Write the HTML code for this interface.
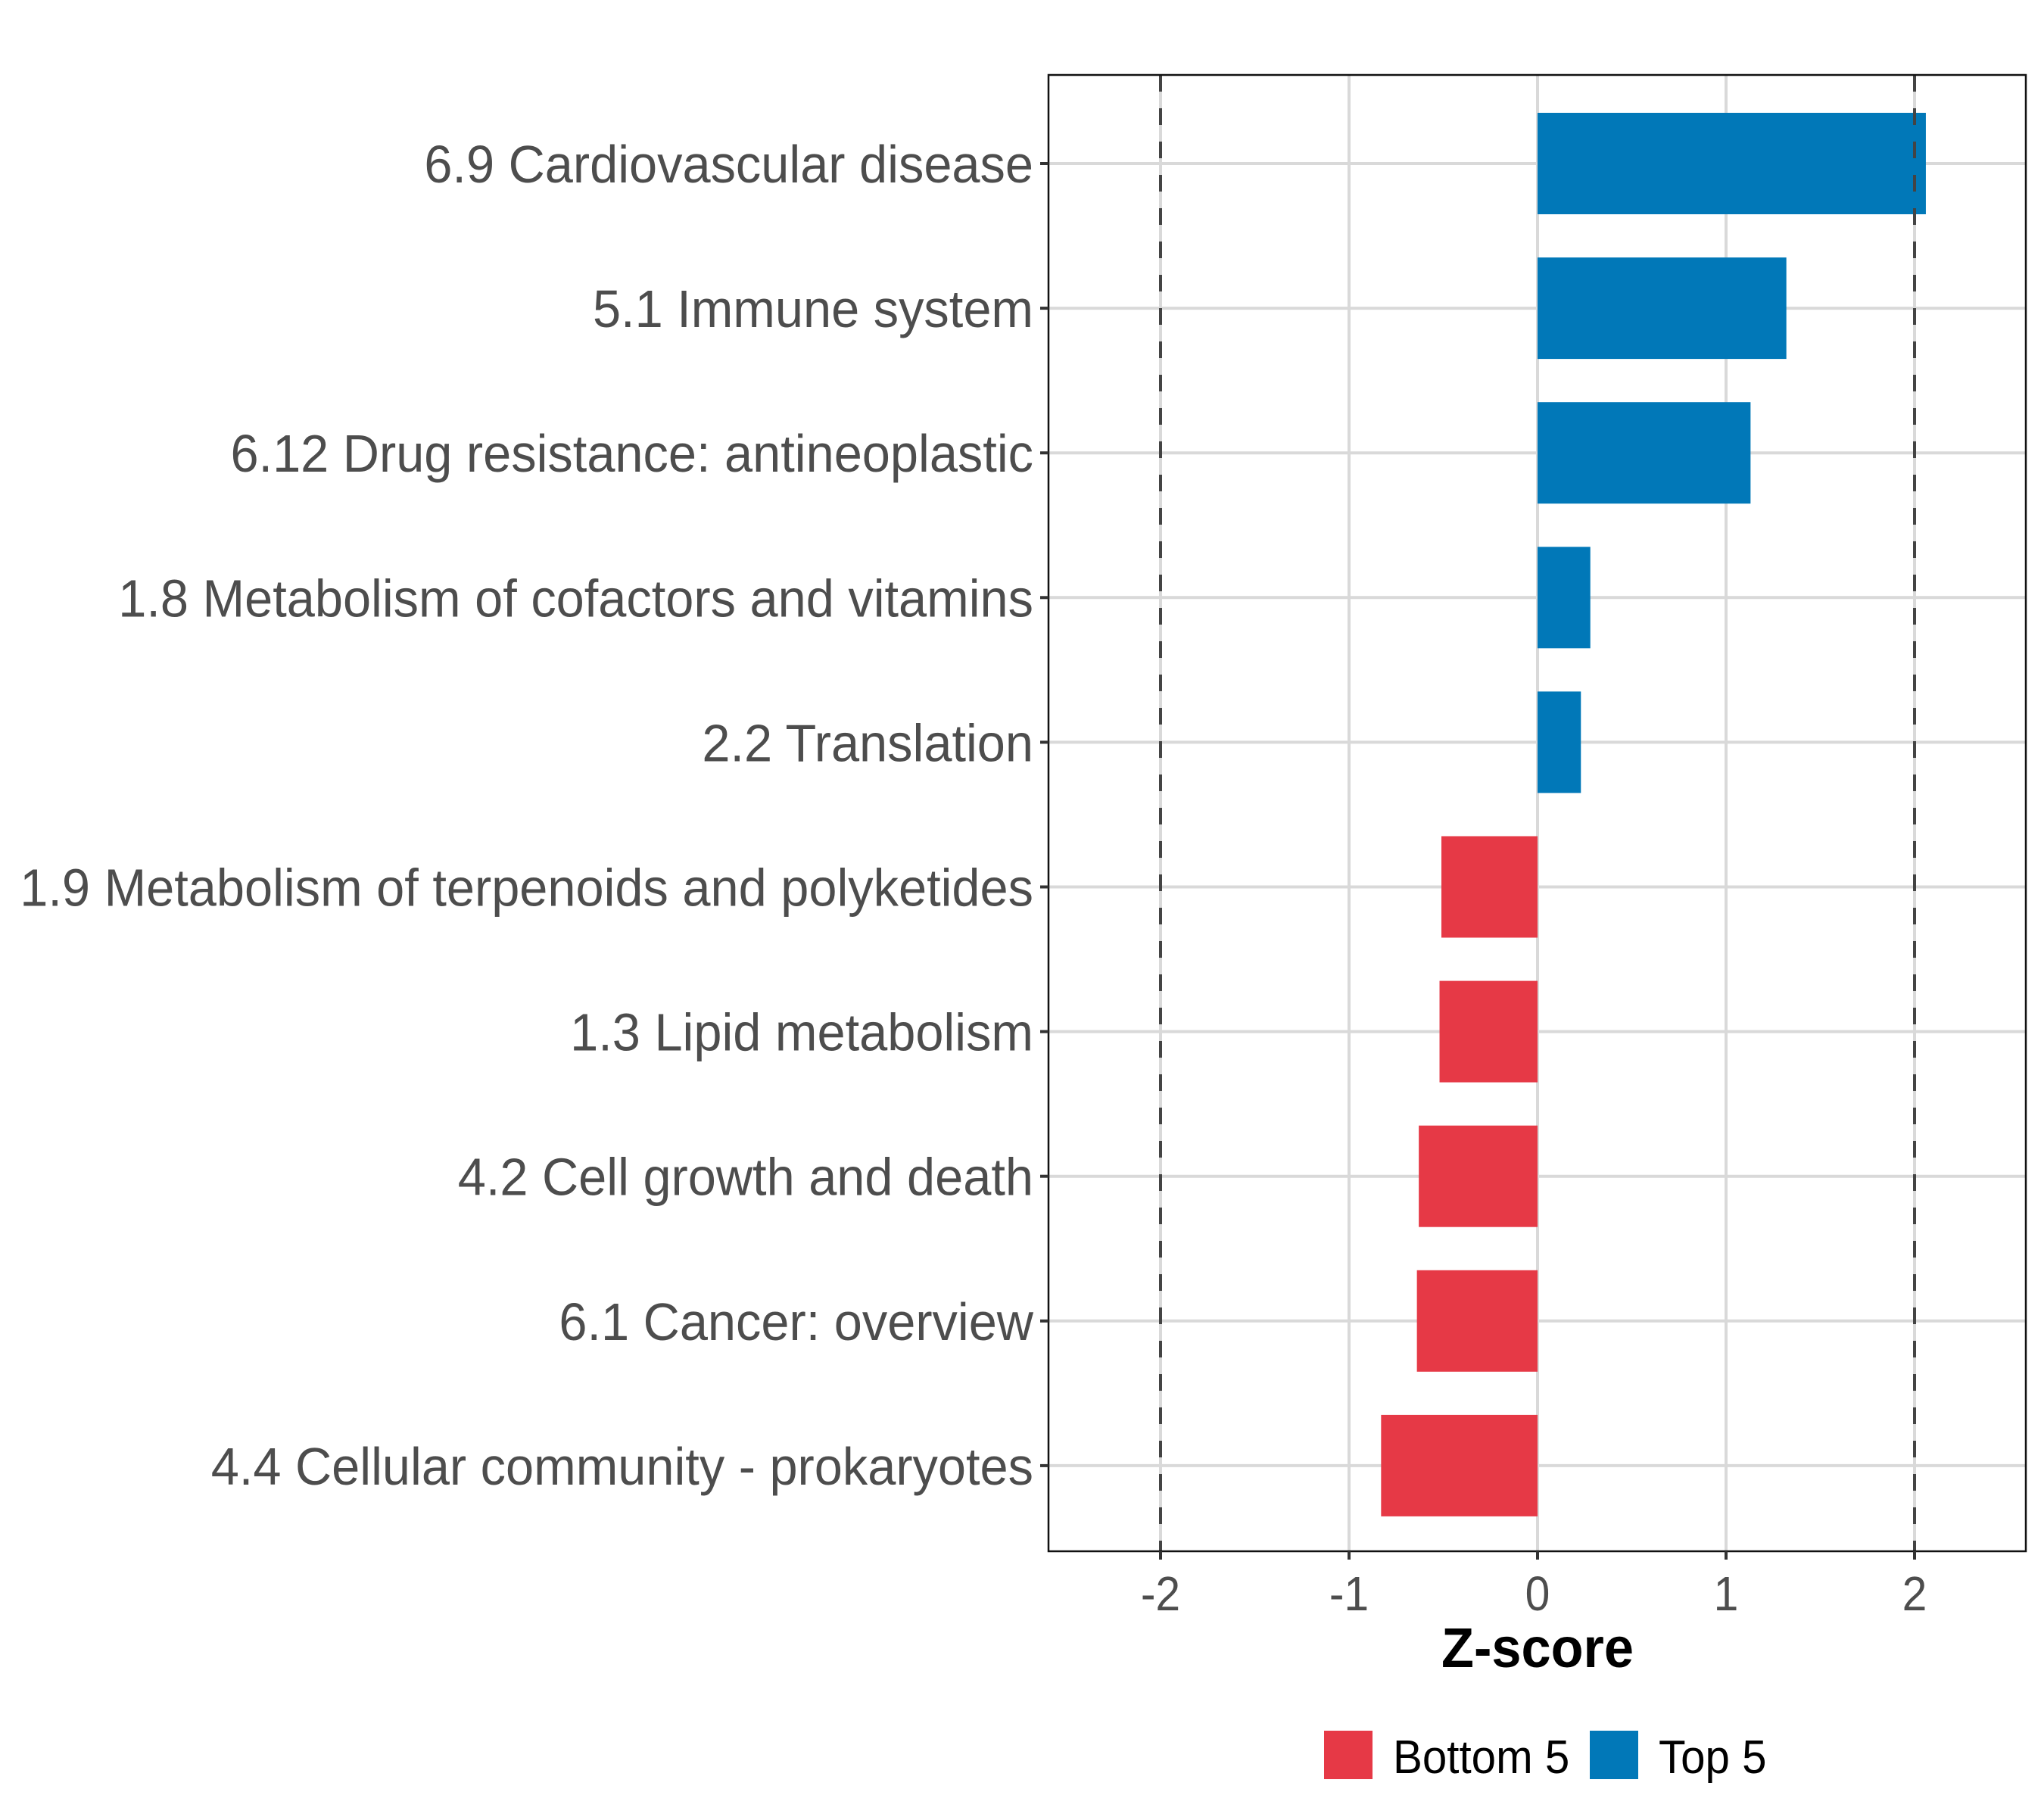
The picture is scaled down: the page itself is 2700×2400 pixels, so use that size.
<!DOCTYPE html>
<html><head><meta charset="utf-8"><style>
html,body{margin:0;padding:0;background:#fff;}
svg{display:block;font-family:"Liberation Sans",Arial,sans-serif;}
</style></head><body>
<svg id="chart" width="2700" height="2400" viewBox="0 0 2700 2400" xmlns="http://www.w3.org/2000/svg">
<rect x="0" y="0" width="2700" height="2400" fill="#fff"/>
<g id="grid"></g><g id="bars"></g><g id="axes"></g>
</svg>
<script>
const categories = ["6.9 Cardiovascular disease","5.1 Immune system","6.12 Drug resistance: antineoplastic","1.8 Metabolism of cofactors and vitamins","2.2 Translation","1.9 Metabolism of terpenoids and polyketides","1.3 Lipid metabolism","4.2 Cell growth and death","6.1 Cancer: overview","4.4 Cellular community - prokaryotes"];
const zscores = [2.06,1.32,1.13,0.28,0.23,-0.51,-0.52,-0.63,-0.64,-0.83];
const groups = ["Top 5","Top 5","Top 5","Top 5","Top 5","Bottom 5","Bottom 5","Bottom 5","Bottom 5","Bottom 5"];
const xTicks = [-2,-1,0,1,2];
const xTickLabels = ["-2","-1","0","1","2"];
const thresholds = [-2,2];
const legendLabels = ["Bottom 5","Top 5"];

const NS="http://www.w3.org/2000/svg";
const P={l:1385,r:2676,t:99,b:2049};
const X0=2031, XU=249;
function xs(v){return X0+v*XU;}
const ROW0=216, ROWD=191.1;
function ys(i){return ROW0+i*ROWD;}
const colors={"Top 5":"#0178B8","Bottom 5":"#E63946"};
function mk(tag,attrs,parent){const e=document.createElementNS(NS,tag);for(const k in attrs)e.setAttribute(k,attrs[k]);parent.appendChild(e);return e;}
function squeeze(t,f){const w=t.getComputedTextLength();t.setAttribute('textLength',w*f);t.setAttribute('lengthAdjust','spacingAndGlyphs');}
const grid=document.getElementById('grid'),bars=document.getElementById('bars'),axes=document.getElementById('axes');

xTicks.forEach((t,i)=>{
  const l=mk('line',{x1:xs(t),x2:xs(t),y1:P.t,y2:P.b,stroke:'#d9d9d9','stroke-width':4},grid);
  
  
});
categories.forEach((c,i)=>{
  const l=mk('line',{x1:P.l,x2:P.r,y1:ys(i),y2:ys(i),stroke:'#d9d9d9','stroke-width':4},grid);
  
  
});
const bh=134;
zscores.forEach((v,i)=>{
  const x=Math.min(xs(0),xs(v)),w=Math.abs(xs(v)-xs(0));
  const r=mk('rect',{x:x,y:ys(i)-bh/2,width:w,height:bh,fill:colors[groups[i]]},bars);
  
  
});
thresholds.forEach(t=>{
  const l=mk('line',{x1:xs(t),x2:xs(t),y1:P.t,y2:P.b,stroke:'#444','stroke-width':4,'stroke-dasharray':'22,22'},bars);
  
  
});
const frame=mk('rect',{x:P.l,y:P.t,width:P.r-P.l,height:P.b-P.t,fill:'none',stroke:'#111','stroke-width':2.5},axes);


categories.forEach((c,i)=>{
  const tk=mk('line',{x1:P.l-11,x2:P.l,y1:ys(i),y2:ys(i),stroke:'#333','stroke-width':4},axes);
  
  
  const t=mk('text',{x:P.l-20,y:ys(i)+25,'text-anchor':'end','font-size':70,fill:'#4d4d4d'},axes);
  t.textContent=c;
  
  
  squeeze(t,0.953);
});
xTicks.forEach((v,i)=>{
  const tk=mk('line',{x1:xs(v),x2:xs(v),y1:P.b,y2:P.b+11,stroke:'#333','stroke-width':4},axes);
  
  
  const t=mk('text',{x:xs(v),y:2127,'text-anchor':'middle','font-size':64,fill:'#4d4d4d'},axes);
  t.textContent=xTickLabels[i];
  
  
  squeeze(t,0.92);
});
const xt=mk('text',{x:xs(0),y:2202,'text-anchor':'middle','font-size':74,'font-weight':'bold',fill:'#000'},axes);
xt.textContent='Z-score';


squeeze(xt,0.95);
const legX=[1749,2100];
legendLabels.forEach((lab,i)=>{
  const k=mk('rect',{x:legX[i],y:2286,width:64,height:64,fill:colors[lab]},axes);
  
  
  const t=mk('text',{x:legX[i]+91,y:2342,'font-size':62,fill:'#000'},axes);
  t.textContent=lab;
  
  
  squeeze(t,0.94);
});
</script>
</body></html>
